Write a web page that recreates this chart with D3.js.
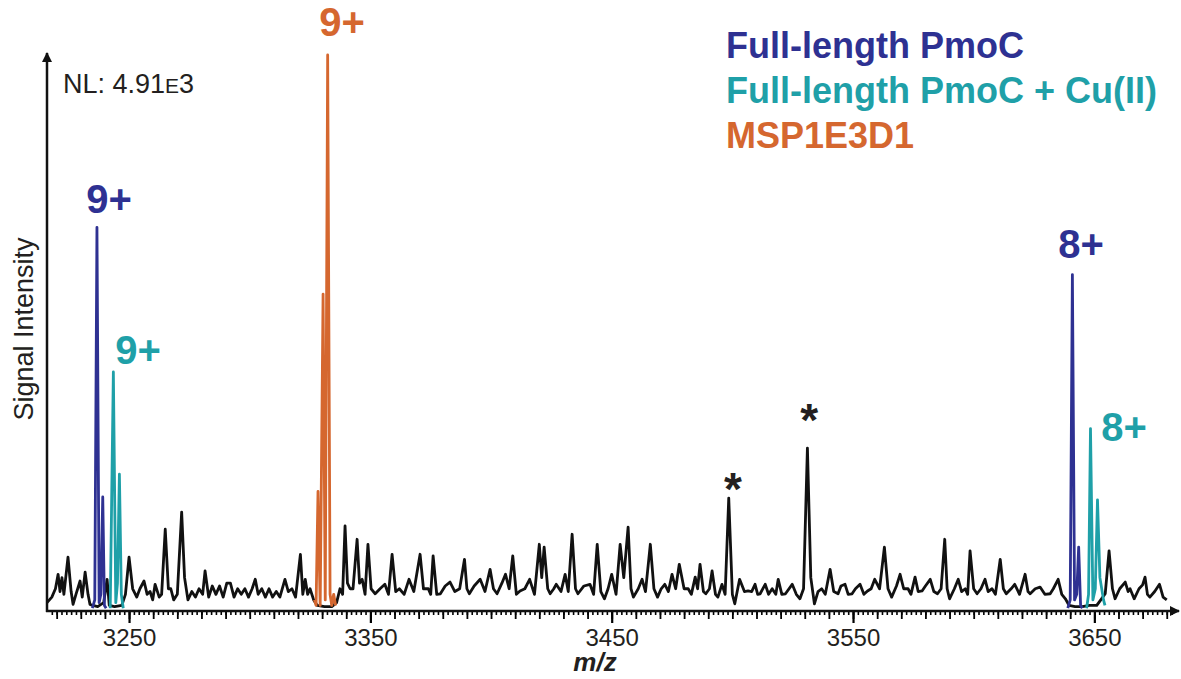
<!DOCTYPE html>
<html lang="en">
<head>
<meta charset="UTF-8">
<title>PmoC native MS</title>
<script src="https://d3js.org/d3.v7.min.js"></script>
<style>
    body { margin: 0; background: #fff; }
    svg { display: block; font-family: "Liberation Sans", Arial, Helvetica, sans-serif; }
    .trace { fill: none; stroke-width: 2.8; stroke-linejoin: round; }
</style>
</head>
<body>
<div id="chart"></div>
<script>
    var w = 1181, h = 679;

    // black spectrum, [m/z, relative intensity %]
    var blackTrace = [
        [3216,1.5],[3218,2.5],[3219.5,4],[3220.6,6.6],[3221.4,3.5],[3222.2,6],[3223,3],[3224.7,9.7],[3226,3.5],[3226.8,1.2],
        [3228,3],[3229.7,5.4],[3230.6,2.5],[3231.8,7],[3233,3],[3233.8,1.2],[3235,1],[3237,0.8],[3239.5,1.5],[3240.9,5.7],
        [3241.8,1],[3244,0.8],[3247,1],[3248.5,3],[3250,9.7],[3251.5,4],[3253.2,2.5],[3254.5,4],[3256.2,5.4],[3257.5,3],
        [3258.7,3.5],[3259.8,2],[3260.8,4.8],[3262.5,2.5],[3263.5,3],[3265,14.7],[3266.3,4],[3267.3,4],[3268.5,2],[3270,3],
        [3271.8,17.8],[3273,6],[3274.4,2],[3276,3.5],[3277.5,2.5],[3279,4],[3280.5,3],[3281.5,7.2],[3283,2.5],[3284.5,4.5],
        [3286,3],[3287.5,4.5],[3289,2.5],[3290.5,5],[3292,5],[3293.5,2.5],[3295,4],[3296.5,3],[3298,4],[3299.5,2.5],
        [3301,4],[3302.3,5.7],[3303.5,3],[3305,4],[3306.5,2.5],[3308,4],[3309.5,2.5],[3311,3.5],[3312.5,2.5],[3314.6,5.7],
        [3316,3.5],[3317.5,4],[3319,2.5],[3321,10.2],[3322,3],[3323,5.7],[3324,3],[3325,4],[3326.5,2],[3328,1],
        [3331,0.8],[3334,0.8],[3336,1.5],[3337.4,4],[3338.5,3],[3339.5,15.3],[3340.5,5],[3341.6,4],[3342.8,4],[3344.5,12.9],
        [3345.5,5],[3346.6,5.7],[3347.8,3],[3349,12],[3350.3,4],[3352,3.1],[3354,4],[3356,4.8],[3357.5,3],[3359,10.2],
        [3360.5,3.5],[3362,4],[3364,3],[3366,5.7],[3368,3.5],[3370.6,10.2],[3372,4],[3374,4],[3375,3],[3376,9.9],
        [3377.5,3],[3379,3.1],[3381,4.5],[3383,5.2],[3385,3.5],[3387,4],[3389,9.3],[3390,4],[3391,3.1],[3393,4.5],
        [3395.5,5.7],[3397.5,3.5],[3399.6,7.5],[3401,4],[3402.5,3.1],[3404.5,5],[3406,6.6],[3407.5,4],[3409,9.9],[3410.5,3],
        [3412,3.6],[3414,4],[3416,5.7],[3418,3],[3420,12],[3421,6],[3422,11.5],[3423.5,4],[3424.5,3.1],[3426,4],
        [3427,4.8],[3429,3.5],[3430.7,6.6],[3432,3.5],[3433.6,13.8],[3435,4],[3436,3.1],[3438.5,4.5],[3441,4.8],[3442.5,3],
        [3444,12],[3445.5,3.5],[3447,2.2],[3448.5,4],[3450,6.6],[3451.8,3],[3453.5,12],[3455,6],[3456.8,15.1],[3458,4],
        [3459,2.5],[3461,4],[3462.6,5.7],[3464,3.5],[3466,12],[3467.5,4],[3469,2.5],[3470.5,4],[3472,4.8],[3473.5,3.5],
        [3475,6.6],[3476.5,4],[3478,8.4],[3480,4],[3481.7,4],[3483,3],[3484.6,6.1],[3485.6,4],[3486.6,8.4],[3488,3.5],
        [3489,3.1],[3490.5,4],[3491.6,7.2],[3493,3],[3494,2.5],[3495.7,4.8],[3497,3],[3498.5,20.3],[3500,3],[3501,1.3],
        [3503,5.7],[3505,3.5],[3506.5,3.6],[3508,3.5],[3509.4,4.8],[3510.5,3],[3511.5,3.1],[3513.6,4.8],[3515,3],[3516.5,4],
        [3518,3],[3519,5.7],[3520.5,3],[3522,3.1],[3524.8,4.8],[3526.5,3],[3528,2.2],[3529.5,4],[3531.1,29.3],[3532.5,6],
        [3534,1.3],[3535.5,3.5],[3537,4],[3538.5,3],[3540.5,7.5],[3542,3.5],[3543.8,3.1],[3545,4.5],[3546.7,4.8],[3548,3],
        [3549.6,3.1],[3551,4],[3552.9,4.8],[3554.5,3],[3556,3.6],[3557.5,4],[3559,5.7],[3561,4],[3563,11.5],[3564.5,4],
        [3566,2.5],[3568,4.5],[3569.5,6.6],[3571,4],[3572.8,4],[3574,3],[3575.7,6.1],[3577,3.5],[3578.6,3.6],[3580,4.5],
        [3582,5.7],[3583.5,3.5],[3585,3.1],[3586.5,4],[3588,12.9],[3589,4],[3590,2.2],[3592,4],[3593.6,5.7],[3595,3.5],
        [3596.5,4],[3597.5,3],[3598.5,10.8],[3600,4],[3601.4,3.1],[3603,4],[3604.7,5.7],[3606,3.5],[3607.6,4],[3609,3],
        [3611,9.3],[3612.3,4],[3613.5,3.1],[3615.5,4],[3617,4.8],[3619,3],[3621.3,6.6],[3622.5,3.5],[3623.4,3.1],[3625.5,4],
        [3627.5,4.3],[3629.5,3],[3631.7,3.1],[3633,4],[3635,5.7],[3636.5,3],[3638,2.2],[3639.5,1],[3642,0.8],[3645,0.8],
        [3648,1],[3651,1],[3653.5,2.5],[3654.5,3.1],[3656.1,10.8],[3657.5,4],[3658.6,2.2],[3660.5,4],[3662.8,5.2],[3664,3.5],
        [3664.8,4],[3666.5,2.2],[3668.5,4],[3670,4.7],[3671,6.1],[3672,3],[3673,2.5],[3675,3.5],[3677,4.8],[3678.5,2.5],
        [3680,2]
    ];

    // full-length PmoC (9+ and 8+)
    var pmocPeaks = [
        [[3234.8,0.5],[3235.8,2],[3236.7,69],[3237.6,1.5],[3238.3,3],[3239.1,20.5],[3239.8,1],[3240.5,0.5]],
        [[3639,0.5],[3640,2],[3640.9,60.5],[3641.8,2],[3642.7,3],[3643.5,11.5],[3644.3,1],[3645,0.5]]
    ];
    // full-length PmoC + Cu(II)
    var pmocCuPeaks = [
        [[3242.2,0.5],[3243.5,43],[3244.5,1.5],[3245.2,5],[3246,24.6],[3246.8,3],[3247.6,0.5]],
        [[3646.8,0.5],[3647.6,3],[3648.4,32.8],[3649.4,2],[3650.4,4],[3651.3,20],[3652.3,6],[3653.8,2],[3654.4,1]]
    ];
    // MSP1E3D1 (9+)
    var mspPeaks = [
        [[3326.8,2],[3327.5,1],[3328.3,21.5],[3329.2,1],[3330.4,57],[3331.3,2],[3332.3,100],[3333.3,3],[3334,1],[3334.8,3],[3335.6,1]]
    ];

    var majorTicks = [3250, 3350, 3450, 3550, 3650];
    var legendLabels = ["Full-length PmoC", "Full-length PmoC + Cu(II)", "MSP1E3D1"];
    var colors = ["#2e3192", "#1fa0a8", "#d5672f"];

    // charge state labels: [m/z of label centre, intensity at label baseline, text, series]
    var chargeLabels = [
        [3241.7, 71.5, "9+", 0],
        [3253.7, 44.5, "9+", 1],
        [3338.3, 103.5, "9+", 2],
        [3644.5, 63.5, "8+", 0],
        [3662.3, 30.5, "8+", 1]
    ];
    var starLabels = [[3500.2, 19], [3531.8, 31.4]];

    var x = d3.scaleLinear().domain([3216, 3684]).range([47, 1176.4]);
    var y = d3.scaleLinear().domain([0, 100]).range([611, 55]);

    var svg = d3.select("#chart").append("svg")
        .attr("width", w)
        .attr("height", h);

    var defs = svg.append("defs");
    defs.append("marker")
        .attr("id", "arrow")
        .attr("viewBox", "0 0 10 10")
        .attr("refX", 9).attr("refY", 5)
        .attr("markerWidth", 4).attr("markerHeight", 4)
        .attr("markerUnits", "strokeWidth")
        .attr("orient", "auto")
        .append("path")
        .attr("d", "M0,0 L10,5 L0,10 Z")
        .attr("fill", "#111");

    var line = d3.line()
        .x(function(d) { return x(d[0]); })
        .y(function(d) { return y(d[1]); });

    // x axis: minor, medium, major ticks
    var minor = d3.range(3218, 3683, 2);
    var medium = d3.range(3220, 3681, 10);

    svg.append("g")
        .attr("transform", "translate(0,611)")
        .call(d3.axisBottom(x).tickValues(minor).tickSize(4).tickFormat(""))
        .call(function(g) { g.select(".domain").remove(); g.selectAll("line").attr("stroke-width", 1.6); });

    svg.append("g")
        .attr("transform", "translate(0,611)")
        .call(d3.axisBottom(x).tickValues(medium).tickSize(8).tickFormat(""))
        .call(function(g) { g.select(".domain").remove(); g.selectAll("line").attr("stroke-width", 1.8); });

    svg.append("g")
        .attr("transform", "translate(0,611)")
        .call(d3.axisBottom(x).tickValues(majorTicks).tickSize(12).tickPadding(6).tickFormat(d3.format("d")))
        .call(function(g) {
            g.select(".domain").remove();
            g.selectAll("line").attr("stroke-width", 2.2);
            g.selectAll("text")
                .attr("font-size", 24)
                .attr("fill", "#231f20")
                .attr("font-family", "'Liberation Sans', Arial, sans-serif");
        });

    // axis lines with arrow heads
    svg.append("line")
        .attr("x1", 46).attr("y1", 611).attr("x2", 1179).attr("y2", 611)
        .attr("stroke", "#111").attr("stroke-width", 2.5)
        .attr("marker-end", "url(#arrow)");
    svg.append("line")
        .attr("x1", 47).attr("y1", 612).attr("x2", 47).attr("y2", 53)
        .attr("stroke", "#111").attr("stroke-width", 2.5)
        .attr("marker-end", "url(#arrow)");

    // spectra
    svg.append("path")
        .datum(blackTrace)
        .attr("class", "trace")
        .attr("stroke", "#111")
        .attr("d", line);

    [pmocPeaks, pmocCuPeaks, mspPeaks].forEach(function(series, i) {
        series.forEach(function(seg) {
            svg.append("path")
                .datum(seg)
                .attr("class", "trace")
                .attr("stroke-width", 2.3)
                .attr("stroke", colors[i])
                .attr("d", line);
        });
    });

    // charge state labels
    svg.selectAll(".charge")
        .data(chargeLabels)
        .enter().append("text")
        .attr("class", "charge")
        .attr("x", function(d) { return x(d[0]); })
        .attr("y", function(d) { return y(d[1]); })
        .attr("text-anchor", "middle")
        .attr("font-size", 40)
        .attr("font-weight", "bold")
        .attr("fill", function(d) { return colors[d[3]]; })
        .text(function(d) { return d[2]; });

    svg.selectAll(".star")
        .data(starLabels)
        .enter().append("text")
        .attr("class", "star")
        .attr("x", function(d) { return x(d[0]); })
        .attr("y", function(d) { return y(d[1]); })
        .attr("text-anchor", "middle")
        .attr("font-size", 46)
        .attr("font-weight", "bold")
        .attr("fill", "#231f20")
        .text("*");

    // legend
    svg.selectAll(".legend")
        .data(legendLabels)
        .enter().append("text")
        .attr("class", "legend")
        .attr("x", 726)
        .attr("y", function(d, i) { return 58 + i * 45; })
        .attr("font-size", 36)
        .attr("font-weight", "bold")
        .attr("fill", function(d, i) { return colors[i]; })
        .text(function(d) { return d; });

    // NL annotation
    var nl = svg.append("text")
        .attr("x", 63).attr("y", 93)
        .attr("font-size", 27)
        .attr("fill", "#231f20");
    nl.append("tspan").text("NL: 4.91");
    nl.append("tspan").attr("font-size", 21).text("E");
    nl.append("tspan").text("3");

    // axis titles
    svg.append("text")
        .attr("x", 595).attr("y", 671)
        .attr("text-anchor", "middle")
        .attr("font-size", 26)
        .attr("font-weight", "bold")
        .attr("font-style", "italic")
        .attr("fill", "#231f20")
        .text("m/z");

    svg.append("text")
        .attr("transform", "translate(33,329) rotate(-90)")
        .attr("text-anchor", "middle")
        .attr("font-size", 27)
        .attr("fill", "#231f20")
        .text("Signal Intensity");
</script>
</body>
</html>
